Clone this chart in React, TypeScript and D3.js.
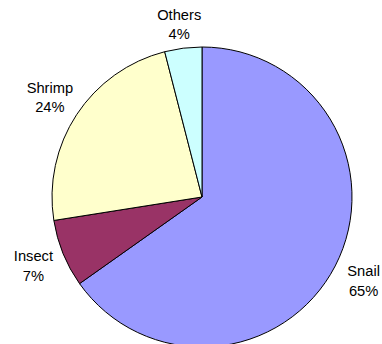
import React from "react";
import * as d3 from "d3";

const categories = ["Snail", "Insect", "Shrimp", "Others"];
const values = [65.2, 7.3, 23.5, 4.0];
const colors = ["#9999FF", "#993366", "#FFFFCC", "#CCFFFF"];

const W = 382;
const H = 344;
const CX = 202;
const CY = 197;
const R = 150;
const LABEL_R = 182;

export default function App() {
  const total = d3.sum(values);
  const pie = d3.pie<number>().sort(null).value((d) => d);
  const arcs = pie(values);
  const arc = d3.arc<d3.PieArcDatum<number>>().innerRadius(0).outerRadius(R);
  const labelArc = d3
    .arc<d3.PieArcDatum<number>>()
    .innerRadius(LABEL_R)
    .outerRadius(LABEL_R);

  return (
    <svg
      width={W}
      height={H}
      style={{ position: "absolute", left: 0, top: 0, background: "#fff" }}
    >
      <g transform={`translate(${CX},${CY})`}>
        {arcs.map((a, i) => (
          <path
            key={categories[i]}
            d={arc(a) || ""}
            fill={colors[i]}
            stroke="#000"
            strokeWidth={1}
          />
        ))}
        {arcs.map((a, i) => {
          const [lx, ly0] = labelArc.centroid(a);
          const ly = Math.max(ly0, 24 - CY);
          const pct = Math.round((values[i] / total) * 100) + "%";
          return (
            <text
              key={"l" + categories[i]}
              textAnchor="middle"
              fontFamily="'Liberation Sans', Arial, sans-serif"
              fontSize={14.7}
              fill="#000"
            >
              <tspan x={lx} y={ly - 4.4}>
                {categories[i]}
              </tspan>
              <tspan x={lx} y={ly + 15.3}>
                {pct}
              </tspan>
            </text>
          );
        })}
      </g>
    </svg>
  );
}
